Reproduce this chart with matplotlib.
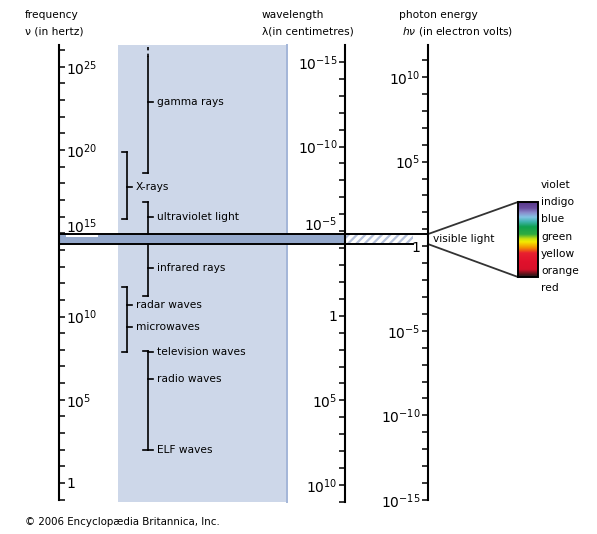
import matplotlib
matplotlib.use("Agg")
import matplotlib.pyplot as plt
import numpy as np
from matplotlib.patches import Rectangle
from matplotlib.colors import LinearSegmentedColormap
from matplotlib.ticker import FixedLocator, FuncFormatter

plt.rcParams['font.family'] = ['DejaVu Sans']
plt.rcParams['mathtext.fontset'] = 'dejavusans'
plt.rcParams['hatch.linewidth'] = 1.6

# ---------------- data ----------------
freq_ticks_log = list(range(-1, 27))      # log10(frequency / Hz)
wave_ticks_log = list(range(-15, 12))     # log10(wavelength / cm)
energy_ticks_log = list(range(-15, 12))   # log10(photon energy / eV)
label_step = 5

# regions of the spectrum (log10 Hz)
bracket_lo = [18.62, 15.86, 14.95, 11.23, 7.87, 1.98]
bracket_hi = [25.59, 19.88, 16.88, 14.35, 11.77, 7.93]
bracket_hook_lo = [True, True, False, True, True, True]
bracket_hook_hi = [False, True, True, False, True, True]
bracket_column = [1, 0, 1, 1, 0, 1]
gamma_open_top = 26.3

region_labels = ["gamma rays", "X-rays", "ultraviolet light", "infrared rays",
                 "radar waves", "microwaves", "television waves", "radio waves",
                 "ELF waves"]
region_label_log = [22.88, 17.78, 15.95, 12.91, 10.69, 9.37, 7.87, 6.25, 1.98]
region_label_bracket = [0, 1, 2, 3, 4, 4, 5, 5, 5]

visible_band_log = (14.35, 14.95)

spectrum_names = ["violet", "indigo", "blue", "green", "yellow", "orange", "red"]
spectrum_colors = ["#58388a", "#6a4ea0", "#8a8ccc", "#84c4e4", "#40b4b0", "#10a050",
                   "#30ac40", "#c8e010", "#f4ec00", "#f49000", "#e82030", "#e0102c",
                   "#d8102a", "#4a1418", "#202020"]
spectrum_stops = [0, 0.08, 0.14, 0.2, 0.26, 0.33, 0.43, 0.49, 0.53, 0.61, 0.68,
                  0.8, 0.9, 0.97, 1.0]

# ---------------- layout helpers ----------------
W, H = 597, 534
def py(ypix):
    """pixel row -> frequency-axis coordinate (log10 Hz)"""
    return (483 - ypix) / 16.65

fig = plt.figure(figsize=(W / 100, H / 100), dpi=100)
ax = fig.add_axes([0, 0, 1, 1])
ax.set_xlim(0, W)
ax.set_ylim(py(H), py(0))
ax_w = ax.twinx()
ax_e = ax.twinx()

X_FREQ, X_WAVE, X_EN = 59, 345, 428
X_HATCH_END = 413
COL_X = [127, 148]
AX_LW = 1.5
TICK_LEN = 4.3
FS = 7.7

def fmt(v, pos=None):
    v = int(round(v))
    if v % label_step:
        return ""
    return "1" if v == 0 else r"$10^{%d}$" % v

# background shaded column
ax.add_patch(Rectangle((118, py(502)), 287 - 118, py(45) - py(502),
                       facecolor="#cdd7e9", edgecolor="none", zorder=0))
ax.plot([287, 287], [py(502), py(45)], color="#a3b6d8", lw=1.4, zorder=0.5)

# visible-light band
lo, hi = visible_band_log
ax.add_patch(Rectangle((X_FREQ, lo), X_WAVE - X_FREQ, hi - lo,
                       facecolor="#94a8cb", edgecolor="none", zorder=1))
ax.add_patch(Rectangle((X_WAVE, lo), X_HATCH_END - X_WAVE, hi - lo, facecolor="white",
                       edgecolor="#b4c0da", hatch="////", lw=0, zorder=1))
ax.plot([X_FREQ, X_EN], [hi, hi], color="black", lw=1.4, zorder=3)
ax.plot([X_FREQ, X_HATCH_END], [lo, lo], color="black", lw=1.4, zorder=3)

# brackets
for lo_b, hi_b, hl, hh, c in zip(bracket_lo, bracket_hi, bracket_hook_lo,
                                 bracket_hook_hi, bracket_column):
    x = COL_X[c]
    ax.plot([x, x], [lo_b, hi_b], color="black", lw=1.2, zorder=2)
    if hl:
        ax.plot([x - 5, x], [lo_b, lo_b], color="black", lw=1.2, zorder=2)
    if hh:
        ax.plot([x - 5, x], [hi_b, hi_b], color="black", lw=1.2, zorder=2)
ax.plot([COL_X[1], COL_X[1]], [bracket_hi[0], gamma_open_top], color="black",
        lw=1.2, ls=(0, (2, 2)), zorder=2)

for txt, yl, b in zip(region_labels, region_label_log, region_label_bracket):
    x = COL_X[bracket_column[b]]
    ax.plot([x, x + 5], [yl, yl], color="black", lw=1.2, zorder=2)
    ax.text(x + 9, yl, txt, fontsize=FS, va="center", ha="left", zorder=4)

# frequency axis (main axes, right spine placed at X_FREQ)
for s in ["left", "top", "bottom"]:
    ax.spines[s].set_visible(False)
ax.set_xticks([])
ax.spines["right"].set_visible(True)
ax.spines["right"].set_position(("data", X_FREQ))
ax.spines["right"].set_bounds(freq_ticks_log[0], gamma_open_top)
ax.spines["right"].set_linewidth(AX_LW)
ax.yaxis.tick_right()
ax.yaxis.set_major_locator(FixedLocator(freq_ticks_log))
ax.yaxis.set_major_formatter(FuncFormatter(fmt))
ax.tick_params(axis="y", which="both", left=False, labelleft=False, right=True,
               labelright=True, direction="out", length=TICK_LEN, width=1.1,
               pad=1, labelsize=10)

# wavelength axis
ax_w.set_ylim(12.896, -18.66)
for s in ["right", "top", "bottom"]:
    ax_w.spines[s].set_visible(False)
ax_w.spines["left"].set_visible(True)
ax_w.spines["left"].set_position(("data", X_WAVE))
ax_w.spines["left"].set_bounds(-16, wave_ticks_log[-1])
ax_w.spines["left"].set_linewidth(AX_LW)
ax_w.yaxis.tick_left()
ax_w.yaxis.set_major_locator(FixedLocator(wave_ticks_log))
ax_w.yaxis.set_major_formatter(FuncFormatter(fmt))
ax_w.tick_params(axis="y", direction="out", length=TICK_LEN, width=1.1, pad=1,
                 labelsize=10)

# photon-energy axis
ax_e.set_ylim(-17.01, 14.55)
for s in ["right", "top", "bottom"]:
    ax_e.spines[s].set_visible(False)
ax_e.spines["left"].set_visible(True)
ax_e.spines["left"].set_position(("data", X_EN))
ax_e.spines["left"].set_bounds(energy_ticks_log[0], 11.89)
ax_e.spines["left"].set_linewidth(AX_LW)
ax_e.yaxis.tick_left()
ax_e.yaxis.set_major_locator(FixedLocator(energy_ticks_log))
ax_e.yaxis.set_major_formatter(FuncFormatter(fmt))
ax_e.tick_params(axis="y", direction="out", length=TICK_LEN, width=1.1, pad=1,
                 labelsize=10)

# visible spectrum fan + colour bar
sp_top, sp_bot = py(202), py(277)
ax.plot([X_EN, 518], [hi, sp_top], color="#333333", lw=1.3, zorder=3)
ax.plot([X_EN, 518], [lo, sp_bot], color="#333333", lw=1.3, zorder=3)
cmap = LinearSegmentedColormap.from_list("vis", list(zip(spectrum_stops, spectrum_colors)))
ax.imshow(np.linspace(0, 1, 256).reshape(-1, 1), cmap=cmap, aspect="auto",
          extent=[518, 538, sp_bot, sp_top], origin="upper", zorder=3)
ax.add_patch(Rectangle((518, sp_bot), 20, sp_top - sp_bot, fill=False,
                       edgecolor="black", lw=1.4, zorder=4))
ax.set_xlim(0, W)
ax.set_ylim(py(H), py(0))
ax.text(433, (lo + hi) / 2, "visible light", fontsize=FS, va="center", ha="left",
        zorder=4)
for i, name in enumerate(spectrum_names):
    ax.text(541, py(185 + i * 17.2), name, fontsize=FS, va="center", ha="left")

# headings
ax.text(25, py(15), "frequency", fontsize=FS, va="center", ha="left")
ax.text(25, py(32), "ν (in hertz)", fontsize=FS, va="center", ha="left")
ax.text(262, py(15), "wavelength", fontsize=FS, va="center", ha="left")
ax.text(262, py(32), "λ(in centimetres)", fontsize=FS, va="center", ha="left")
ax.text(399, py(15), "photon energy", fontsize=FS, va="center", ha="left")
ax.text(402, py(32), r"$h\nu$ (in electron volts)", fontsize=FS, va="center",
        ha="left")
ax.text(25, py(522), "© 2006 Encyclopædia Britannica, Inc.", fontsize=7.4,
        va="center", ha="left")

# labels that sit just above the visible band: lift them onto the band edge
fig.canvas.draw()
for axis_obj, ticks_list, value, boxed in [(ax, freq_ticks_log, 15, True),
                                          (ax_w, wave_ticks_log, -5, False)]:
    tk = axis_obj.yaxis.get_major_ticks()[ticks_list.index(value)]
    for lab in (tk.label1, tk.label2):
        lab.set_verticalalignment("baseline")
        if boxed:
            lab.set_bbox(dict(facecolor="white", edgecolor="none", pad=0.3))
        lab.set_zorder(5)

fig.savefig("out.png", dpi=100)
